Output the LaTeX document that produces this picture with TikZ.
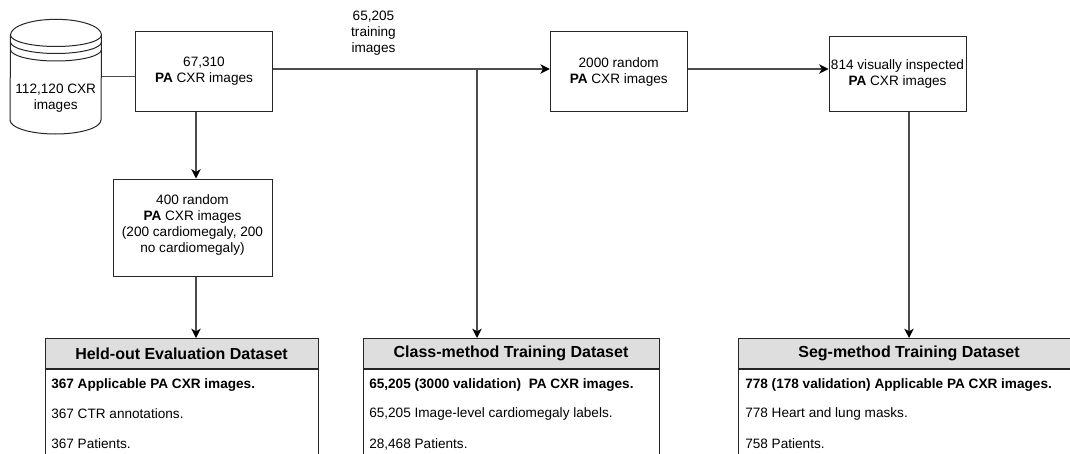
\documentclass[tikz,border=0pt]{standalone}
\usepackage{fontspec}
\setmainfont{Liberation Sans}
\usetikzlibrary{arrows.meta,positioning}
\tikzset{
 line/.style={draw=black!70,line width=0.95pt},
 arr/.style={line,-{Stealth[length=7pt,width=7pt,inset=2pt,black]}},
 shp/.style={draw=black!85,line width=0.75pt},
 bx/.style={shp,align=center,inner sep=0pt,font=\fontsize{10.2}{12}\selectfont},
 bxs/.style={bx,execute at begin node={\rule{0pt}{11pt}}},
 head/.style={shp,fill=black!13,font=\fontsize{12}{14}\bfseries\selectfont,inner sep=0pt},
 body/.style={shp,inner sep=0pt},
 rowtxt/.style={anchor=west,inner sep=0pt,font=\fontsize{10.2}{12}\selectfont},
 rowbold/.style={rowtxt,font=\fontsize{10.2}{12}\bfseries\selectfont},
 plain/.style={align=center,inner sep=0pt,font=\fontsize{10.2}{12}\selectfont},
}
\begin{document}
\begin{tikzpicture}[x=0.75pt,y=-0.75pt]
\useasboundingbox (0,0) rectangle (1070,453);
\clip (0,0) rectangle (1070,453);
% cylinder
\draw[shp] (10.5,35) arc[start angle=180,end angle=360,x radius=45.5,y radius=15.7] -- (101,120)
  arc[start angle=0,end angle=180,x radius=45.5,y radius=14] -- cycle;
\draw[shp] (10.5,35) arc[start angle=180,end angle=0,x radius=45.5,y radius=11.5];
\draw[shp] (10.5,42) arc[start angle=180,end angle=0,x radius=45.5,y radius=11.5];
\draw[shp] (10.5,49.5) arc[start angle=180,end angle=0,x radius=45.5,y radius=11.5];
\node[plain,minimum width=68.25pt,minimum height=86.25pt] (cyl) at (55.75,76.5) {};
\node[plain] (cyltxt) at (55.75,98) {112,120 CXR\\images};
\node[bxs,minimum width=102.75pt,minimum height=59.25pt] (r1) at (204,71.5) {67,310\\\textbf{PA} CXR images};
\node[bx,minimum width=119.25pt,minimum height=72.75pt] (r2) at (192.5,227.5) {400 random\\\textbf{PA} CXR images\\(200 cardiomegaly, 200\\no cardiomegaly)\\[-6pt]\mbox{}};
\node[bxs,minimum width=102.75pt,minimum height=59.25pt] (r3) at (618.75,71.5) {2000 random\\\textbf{PA} CXR images};
\node[bxs,minimum width=102.75pt,minimum height=55.5pt] (r4) at (897.5,74) {814 visually inspected\\\textbf{PA} CXR images};
\node[plain] (lbl) at (373.5,33) {65,205\\training\\images};
% datasets
\node[head,minimum width=204.75pt,minimum height=22.5pt] (h1) at (181.5,353.5) {Held-out Evaluation Dataset};
\node[head,minimum width=222pt,minimum height=22.5pt] (h2) at (511,353.5) {Class-method Training Dataset};
\node[head,minimum width=255.75pt,minimum height=22.5pt] (h3) at (909,353.5) {Seg-method Training Dataset};
\node[body,minimum width=204.75pt,minimum height=90pt,anchor=north] (b1) at (h1.south) {};
\node[body,minimum width=222pt,minimum height=90pt,anchor=north] (b2) at (h2.south) {};
\node[body,minimum width=255.75pt,minimum height=90pt,anchor=north] (b3) at (h3.south) {};
\node[rowbold] (t11) at (51,385) {367 Applicable PA CXR images.};
\node[rowtxt] (t12) at (51,414) {367 CTR annotations.};
\node[rowtxt] (t13) at (51,444) {367 Patients.};
\node[rowbold] (t21) at (369,385) {65,205 (3000 validation)\ \ PA CXR images.};
\node[rowtxt] (t22) at (369,414) {65,205 Image-level cardiomegaly labels.};
\node[rowtxt] (t23) at (369,444) {28,468 Patients.};
\node[rowbold] (t31) at (745,385) {778 (178 validation) Applicable PA CXR images.};
\node[rowtxt] (t32) at (745,414) {778 Heart and lung masks.};
\node[rowtxt] (t33) at (745,444) {758 Patients.};
% connectors
\coordinate (j) at (477,69);
\coordinate (ax) at (196,200);
\draw[line] (cyl.east) -- (r1.west |- cyl.east);
\draw[arr] (r1.east |- j) -- (r3.west |- j);
\draw[arr] (j) -- (j |- h2.north);
\draw[arr] (r3.east |- j) -- (r4.west |- j);
\draw[arr] (ax |- r1.south) -- (ax |- r2.north);
\draw[arr] (ax |- r2.south) -- (ax |- h1.north);
\draw[arr] (h3.north |- r4.south) -- (h3.north);
\end{tikzpicture}
\end{document}
